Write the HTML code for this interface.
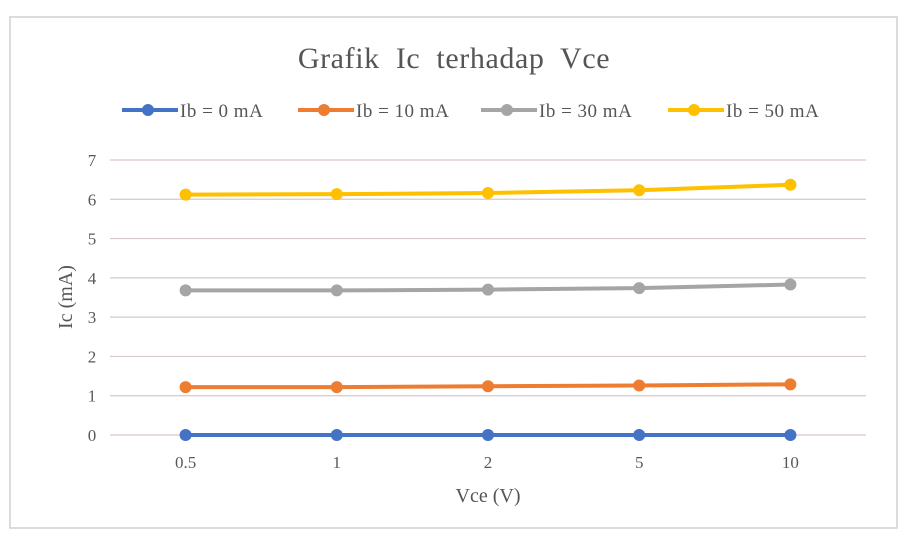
<!DOCTYPE html>
<html><head><meta charset="utf-8"><style>
body{margin:0;background:#fff;width:908px;height:546px;overflow:hidden}
svg{display:block;font-family:"Liberation Serif",serif}
</style></head><body>
<svg id="chart" width="908" height="546">
<rect x="10" y="17" width="887" height="511" fill="#fff" stroke="#d0d0d0" stroke-width="1.5"/>
<text x="454" y="68" text-anchor="middle" font-size="30" fill="#555" word-spacing="8" letter-spacing="0.6">Grafik Ic terhadap Vce</text>
<g id="grid"></g>
<g id="yticks"></g>
<g id="xticks"></g>
<text x="72" y="297" transform="rotate(-90 72 297)" text-anchor="middle" font-size="20" fill="#555">Ic (mA)</text>
<text x="488" y="502" text-anchor="middle" font-size="20" fill="#555">Vce (V)</text>
<g id="series"></g>
<g id="legend"></g>
</svg>
<script>
const categories=["0.5","1","2","5","10"];
const yTicks=[0,1,2,3,4,5,6,7];
const seriesNames=["Ib = 0 mA","Ib = 10 mA","Ib = 30 mA","Ib = 50 mA"];
const s0=[0,0,0,0,0];
const s1=[1.22,1.22,1.24,1.26,1.29];
const s2=[3.68,3.68,3.70,3.74,3.83];
const s3=[6.12,6.13,6.16,6.23,6.37];
const allSeries=[s0,s1,s2,s3];
const colors=["#4472c4","#ed7d31","#a5a5a5","#ffc000"];
const NS="http://www.w3.org/2000/svg";
const x0=110,x1=866,yTop=160,yBot=435,yMax=7;
const xs=i=>x0+(x1-x0)/categories.length*(i+0.5);
const ys=v=>yBot-(yBot-yTop)*v/yMax;
function mk(t,a,p){const e=document.createElementNS(NS,t);for(const k in a)e.setAttribute(k,a[k]);p.appendChild(e);return e;}
const grid=document.getElementById('grid'),yt=document.getElementById('yticks'),xt=document.getElementById('xticks');
yTicks.forEach(v=>{
 const l=mk('line',{x1:x0,x2:x1,y1:ys(v),y2:ys(v),stroke:'#d6c8cd','stroke-width':1.2},grid);
 
 
 const t=mk('text',{x:92,y:ys(v)+6,'text-anchor':'middle','font-size':17,fill:'#595959'},yt);t.textContent=v;
 
 
});
categories.forEach((c,i)=>{
 const t=mk('text',{x:xs(i),y:468,'text-anchor':'middle','font-size':17,fill:'#595959'},xt);t.textContent=c;
 
 
});
const sg=document.getElementById('series');
allSeries.forEach((s,k)=>{
 const g=mk('g',{},sg);
 
 
 const p=mk('polyline',{points:s.map((v,i)=>xs(i)+','+ys(v)).join(' '),fill:'none',stroke:colors[k],'stroke-width':4,'stroke-linejoin':'round'},g);
 
 
 s.forEach((v,i)=>{const c=mk('circle',{cx:xs(i),cy:ys(v),r:6,fill:colors[k]},g);
  
  });
});
const lg=document.getElementById('legend');
const lx=[122,298,481,668];
seriesNames.forEach((n,k)=>{
 const g=mk('g',{},lg);
 
 
 mk('line',{x1:lx[k],x2:lx[k]+56,y1:110,y2:110,stroke:colors[k],'stroke-width':4},g);
 mk('circle',{cx:lx[k]+26,cy:110,r:6,fill:colors[k]},g);
 const t=mk('text',{x:lx[k]+58,y:117,'font-size':19,fill:'#555','letter-spacing':0.5},g);t.textContent=n;
});
</script>
</body></html>
